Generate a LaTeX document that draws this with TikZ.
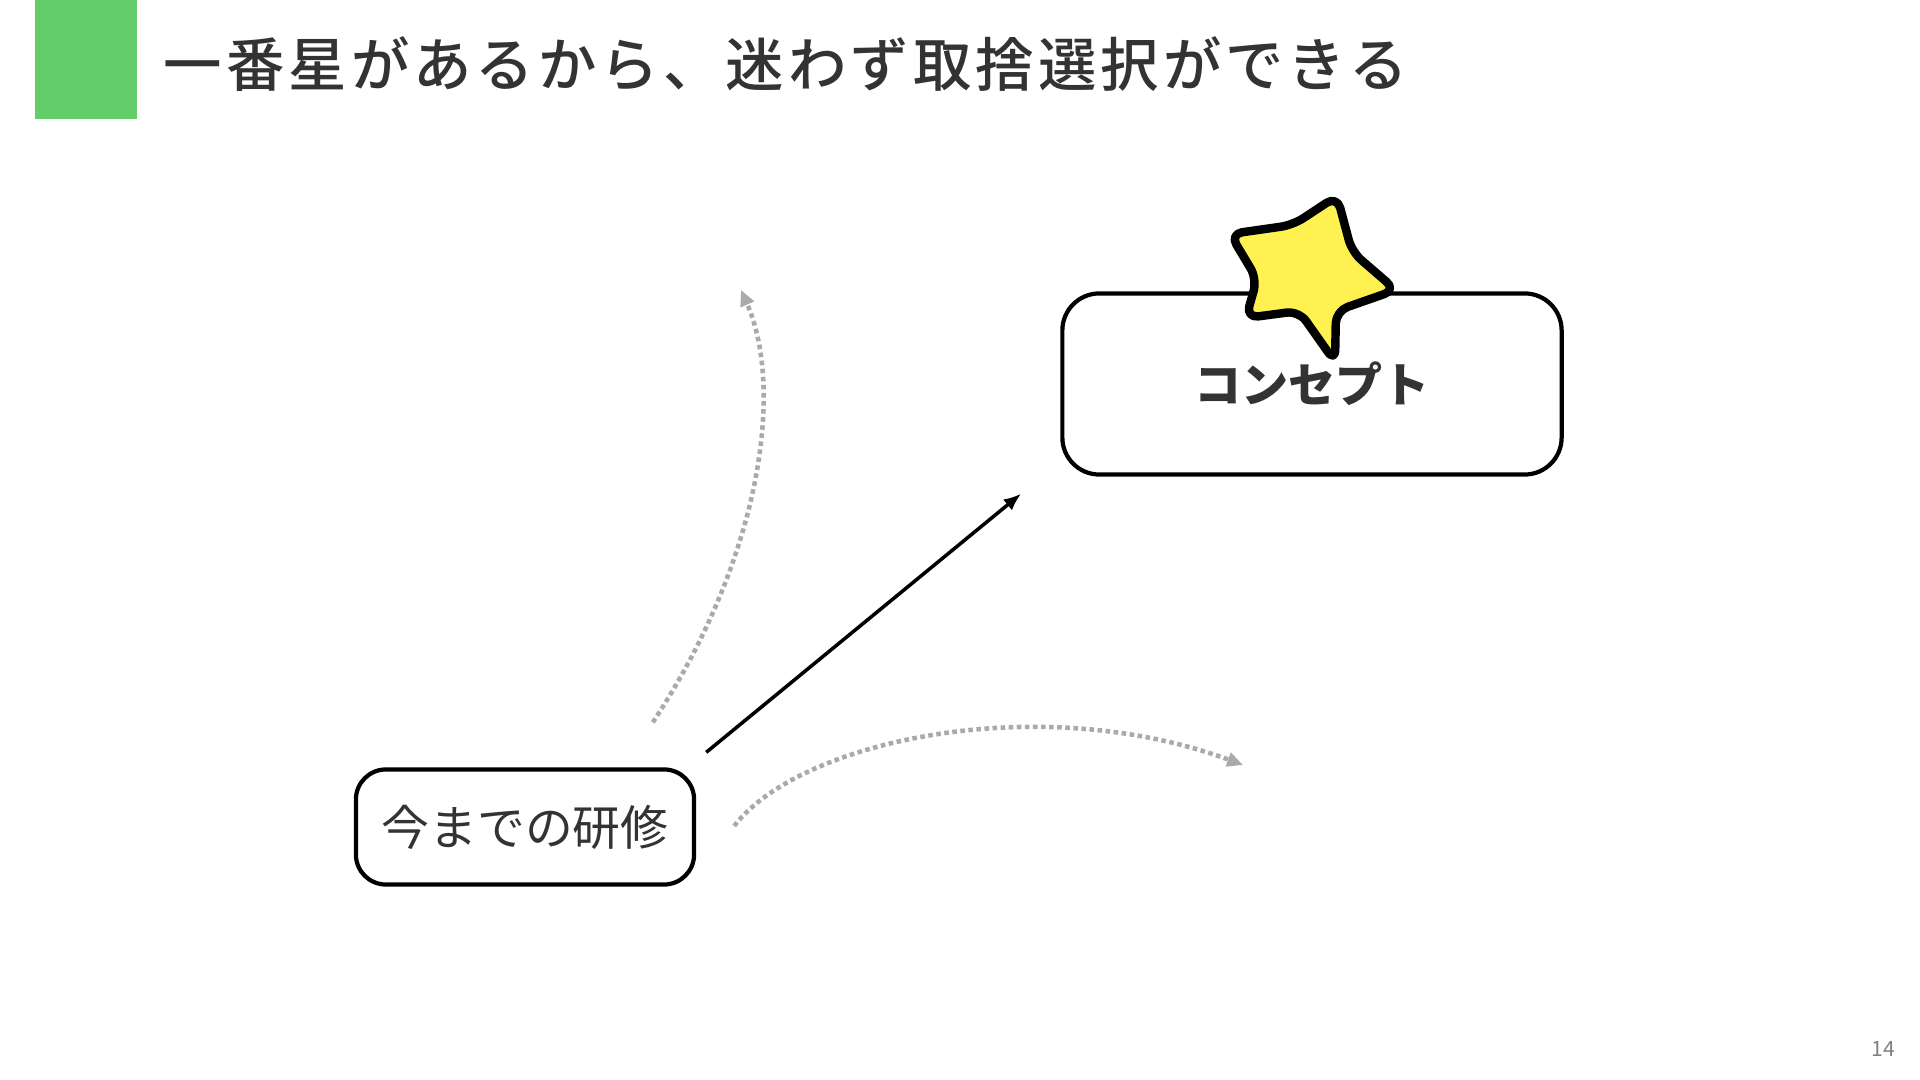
\documentclass[tikz,border=0pt]{standalone}
\usepackage{fontspec}
\setmainfont{Noto Sans CJK JP}
\newfontfamily\titlefont[LetterSpace=7]{Noto Sans CJK JP Medium}
\usetikzlibrary{arrows.meta}
\definecolor{markgreen}{RGB}{99,205,106}
\definecolor{textgray}{RGB}{51,51,51}
\definecolor{dotgray}{RGB}{170,170,170}
\definecolor{staryellow}{RGB}{255,242,80}

\begin{document}
\begin{tikzpicture}[x=0.01cm, y=-0.01cm,
    box/.style={draw, line width=1.2pt, rounded corners=0.3cm, fill=white, align=center, text=textgray},
    arr/.style={-{Latex[length=5pt,width=4pt]}, line width=1pt},
    dotarr/.style={-{Triangle[length=4.5pt,width=4pt]}, dotgray, line width=1.3pt, dash pattern=on 1.3pt off 1pt},
    starfill/.style={fill=staryellow, draw=black, line width=2.4pt, rounded corners=3.5pt, line join=round}
  ]
    \useasboundingbox (0,0) rectangle (1920,1080);
    % title bar
    \fill[markgreen] (35,0) rectangle (137,119);
    \node[anchor=west, text=textgray, font=\titlefont\fontsize{16.6pt}{19pt}\selectfont, inner sep=0pt] (title) at (163,64) {一番星があるから、迷わず取捨選択ができる};

    \node[box, minimum width=3.38cm, minimum height=1.15cm, font=\fontsize{13.6pt}{16pt}\selectfont] (train) at (525,827) {今までの研修};
    \node[box, minimum width=4.99cm, minimum height=1.81cm, rounded corners=0.37cm, font=\fontsize{13.4pt}{16pt}\selectfont\bfseries] (concept) at (1312,384) {コンセプト};

    % star on the concept box
    \draw[starfill] (1337,196) -- (1352,252) -- (1396,290) -- (1336,311) -- (1335,362) -- (1299,311)
      -- (1246,318) -- (1257,279) -- (1230,234) -- (1293,225) -- cycle;

    \coordinate (up) at (741,290);
    \coordinate (right) at (1243,765);
    \draw[arr] ([shift={(10,-15)}]train.north east) -- ([shift={(-39,17)}]concept.south west);
    \draw[dotarr] ([shift={(299,-45)}]train.north west) .. controls (760,560) and (785,390) .. (up);
    \draw[dotarr] ([shift={(38,-1)}]train.east) .. controls (800,740) and (1040,690) .. (right);

    \node[text=gray, font=\fontsize{6pt}{7pt}\selectfont] (page) at (1883,1049) {14};
  \end{tikzpicture}
\end{document}
